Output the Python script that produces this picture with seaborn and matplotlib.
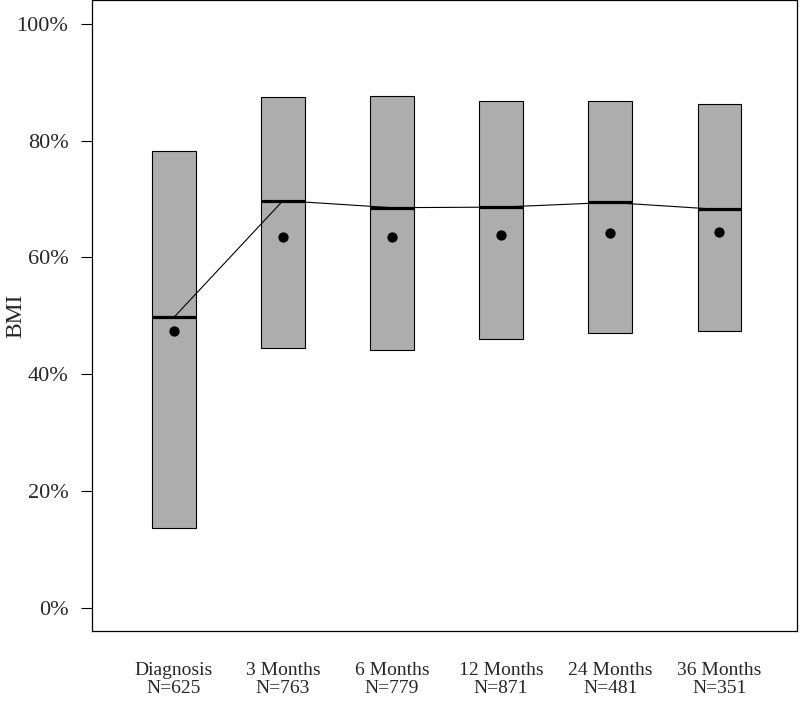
import numpy as np
import pandas as pd
import matplotlib
matplotlib.use("Agg")
import matplotlib.pyplot as plt
import seaborn as sns
from matplotlib.ticker import PercentFormatter

# values (fractions of 1)
groups = ['Diagnosis', '3 Months', '6 Months', '12 Months', '24 Months', '36 Months']
n_obs = [625, 763, 779, 871, 481, 351]
lower = [0.137, 0.444, 0.441, 0.460, 0.470, 0.474]
upper = [0.782, 0.874, 0.876, 0.867, 0.868, 0.862]
median = [0.497, 0.697, 0.685, 0.686, 0.694, 0.682]
mean = [0.474, 0.635, 0.635, 0.638, 0.641, 0.643]

sns.set_theme(style="white")
plt.rcParams['font.family'] = ['Liberation Serif', 'DejaVu Serif']

df = pd.DataFrame({'group': groups, 'n': n_obs, 'lower': lower, 'upper': upper,
                   'median': median, 'mean': mean})
df['pos'] = np.arange(len(df))

fig = plt.figure(figsize=(8, 7.01), dpi=100)
ax = fig.add_axes([0.115, 0.0999, 0.881, 0.8995])

# boxes (range bars)
ax.bar(df['pos'], df['upper'] - df['lower'], bottom=df['lower'], width=0.4,
       color='#adadad', edgecolor='black', linewidth=0.8, zorder=2)

# median ticks
ax.hlines(df['median'], df['pos'] - 0.2, df['pos'] + 0.2, color='black', linewidth=2.3, zorder=3)

# line joining medians
sns.lineplot(data=df, x='pos', y='median', color='black', linewidth=0.8, ax=ax, zorder=4)

# means
sns.scatterplot(data=df, x='pos', y='mean', color='black', s=55, edgecolor='black',
                linewidth=0, ax=ax, zorder=5)

ax.set_xlim(-0.75, 5.71)
ax.set_ylim(-0.04, 1.04)
ax.set_yticks([0, 0.2, 0.4, 0.6, 0.8, 1.0])
ax.yaxis.set_major_formatter(PercentFormatter(1.0, decimals=0))
ax.set_xticks(df['pos'])
ax.set_xticklabels([f"{g}\nN={n}" for g, n in zip(df['group'], df['n'])], linespacing=1.15)

ax.tick_params(axis='y', length=8, width=0.8, pad=9, labelsize=16, color='black', left=True)
ax.tick_params(axis='x', length=0, pad=22, labelsize=14)

ax.set_xlabel('')
ax.set_ylabel('BMI', fontsize=17, va='center')
ax.yaxis.set_label_coords(-0.108, 0.5)

for sp in ax.spines.values():
    sp.set_color('black')
    sp.set_linewidth(0.9)

fig.savefig('out.png', dpi=100)
